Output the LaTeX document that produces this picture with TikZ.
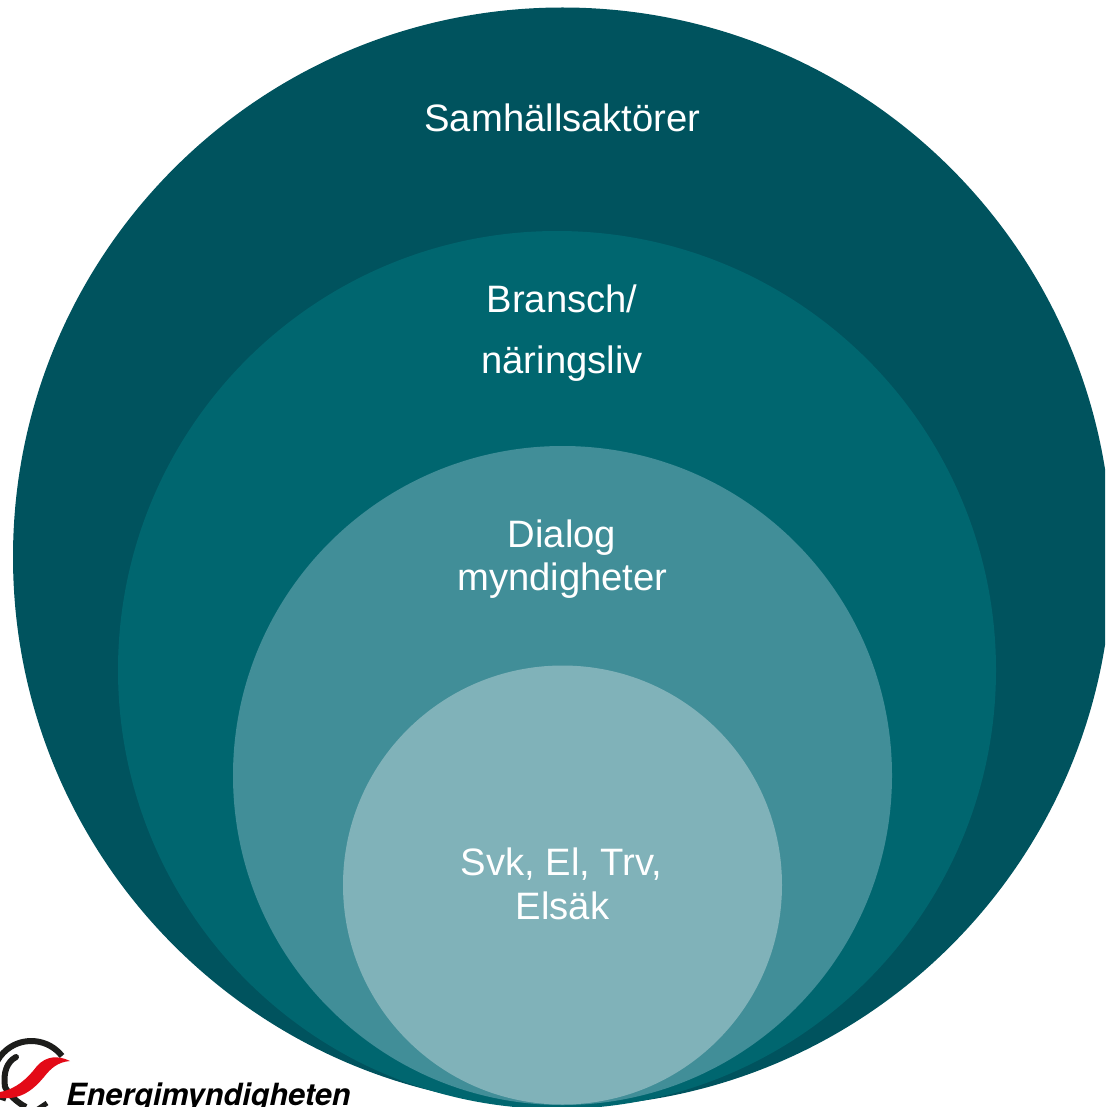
\documentclass[tikz,border=0pt]{standalone}
\usepackage{fontspec}
\setmainfont{Liberation Sans}
\newfontfamily\logofont{TeX Gyre Heros}
\definecolor{ringA}{HTML}{00535E}
\definecolor{ringB}{HTML}{00666F}
\definecolor{ringC}{HTML}{418E98}
\definecolor{ringD}{HTML}{80B2B9}
\definecolor{logoRed}{HTML}{E30A17}
\definecolor{logoDark}{HTML}{1D1D1B}
\tikzset{
  ringlabel/.style={text=white,font=\fontsize{38.2}{42}\selectfont,align=center,inner sep=0pt},
  logoline/.style={draw=logoDark,line width=6pt,fill=none}
}
\begin{document}
\begin{tikzpicture}[x=1pt,y=-1pt]
\useasboundingbox (0,0) rectangle (1105,1107);
\clip (0,0) rectangle (1105,1107);
\fill[ringA] (562.5,557) circle [radius=549.5];
\fill[ringB] (557,670) circle [radius=439];
\fill[ringC] (562.5,775.5) circle [radius=329.5];
\fill[ringD] (562.5,885) circle [radius=219.5];
\node[ringlabel] (samhall) at (562.5,118) {Samhällsaktörer};
\node[ringlabel] (bransch) at (562,299) {Bransch/};
\node[ringlabel] (naring) at (562,364) {näringsliv};
\node[ringlabel] (dialog) at (562,538) {Dialog};
\node[ringlabel] (mynd) at (562.5,581) {myndigheter};
\node[ringlabel] (svk) at (561.5,864) {Svk, El, Trv,};
\node[ringlabel] (elsak) at (562.5,906) {Elsäk};
% logo
\draw[logoline] (62,1056) arc [start angle=-38,end angle=-190,radius=39];
\draw[logoline,line cap=round] (16,1057) .. controls (7,1062) and (3,1072) .. (5,1087);
\draw[logoline] (5,1087) .. controls (10,1096) and (18,1103) .. (26,1107);
\draw[logoline,line width=5pt] (0,1097) -- (6,1099);
\draw[logoline,line width=5pt] (38,1109) -- (47,1103);
\fill[logoRed] (70,1061) .. controls (58,1055) and (46,1056) .. (37,1066) .. controls (27,1079) and (16,1089) .. (0,1092) -- (0,1098) .. controls (21,1100) and (33,1090) .. (44,1077) .. controls (51,1068) and (58,1062) .. (70,1061) -- cycle;
\node[anchor=base west,inner sep=0pt,font=\logofont\bfseries\itshape\fontsize{30.6}{30}\selectfont,text=black] (logotext) at (66,1105) {Energimyndigheten};
\end{tikzpicture}
\end{document}
